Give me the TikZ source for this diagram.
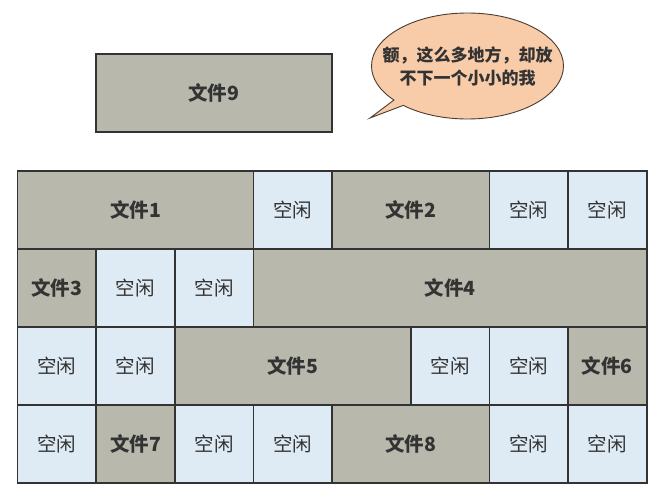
\documentclass[tikz,border=0pt]{standalone}
\usepackage{fontspec}
\newfontfamily\cjk{Noto Sans CJK SC}
\usetikzlibrary{calc, shapes.callouts}
\definecolor{filegray}{HTML}{B8B9AC}
\definecolor{freeblue}{HTML}{DEEBF5}
\definecolor{bubblefill}{HTML}{F8CBA9}
\definecolor{bubbleline}{HTML}{4A3C30}
\definecolor{edge}{HTML}{333333}
\tikzset{
  cell/.style={draw=edge, line width=1.8pt, anchor=north west, inner sep=0pt,
    outer sep=0pt, minimum height=78pt, text=edge},
  filecell/.style={cell, fill=filegray, font=\cjk\bfseries\fontsize{19.5}{19.5}\selectfont},
  freecell/.style={cell, fill=freeblue, font=\cjk\fontsize{19.5}{19.5}\selectfont},
}

\begin{document}
\begin{tikzpicture}[x=1pt, y=1pt]
  \useasboundingbox (0,0) rectangle (661,-497);
  \def\W{78.65}
  \def\H{78}
  \coordinate (origin) at (17.5,-170.7);
  % the disk, row by row
  \foreach \r/\c/\w/\lab/\kind in {
    0/0/3/文件1/filecell, 0/3/1/空闲/freecell, 0/4/2/文件2/filecell,
    0/6/1/空闲/freecell, 0/7/1/空闲/freecell,
    1/0/1/文件3/filecell, 1/1/1/空闲/freecell, 1/2/1/空闲/freecell,
    1/3/5/文件4/filecell,
    2/0/1/空闲/freecell, 2/1/1/空闲/freecell, 2/2/3/文件5/filecell,
    2/5/1/空闲/freecell, 2/6/1/空闲/freecell, 2/7/1/文件6/filecell,
    3/0/1/空闲/freecell, 3/1/1/文件7/filecell, 3/2/1/空闲/freecell,
    3/3/1/空闲/freecell, 3/4/2/文件8/filecell, 3/6/1/空闲/freecell,
    3/7/1/空闲/freecell}
  {
    \node[\kind, minimum width=\w*\W pt] (cell-\r-\c)
      at ($(origin)+(\c*\W,-\r*\H)$) {\lab};
  }
  % the file that does not fit
  \node[filecell, minimum width=3*\W pt] (file9) at (95.7,-54) {文件9};
  \node[ellipse callout, draw=bubbleline, line width=0.9pt, fill=bubblefill,
    inner sep=0pt, minimum width=192pt, minimum height=106pt,
    callout pointer arc=8, callout absolute pointer={(370,-118)}]
    (bubble) at (467.5,-66) {};
  \node[align=center, text=edge, font=\cjk\bfseries\fontsize{17}{23}\selectfont]
    (bubble-text) at (bubble.center) {额，这么多地方，却放\\不下一个小小的我};
\end{tikzpicture}
\end{document}
